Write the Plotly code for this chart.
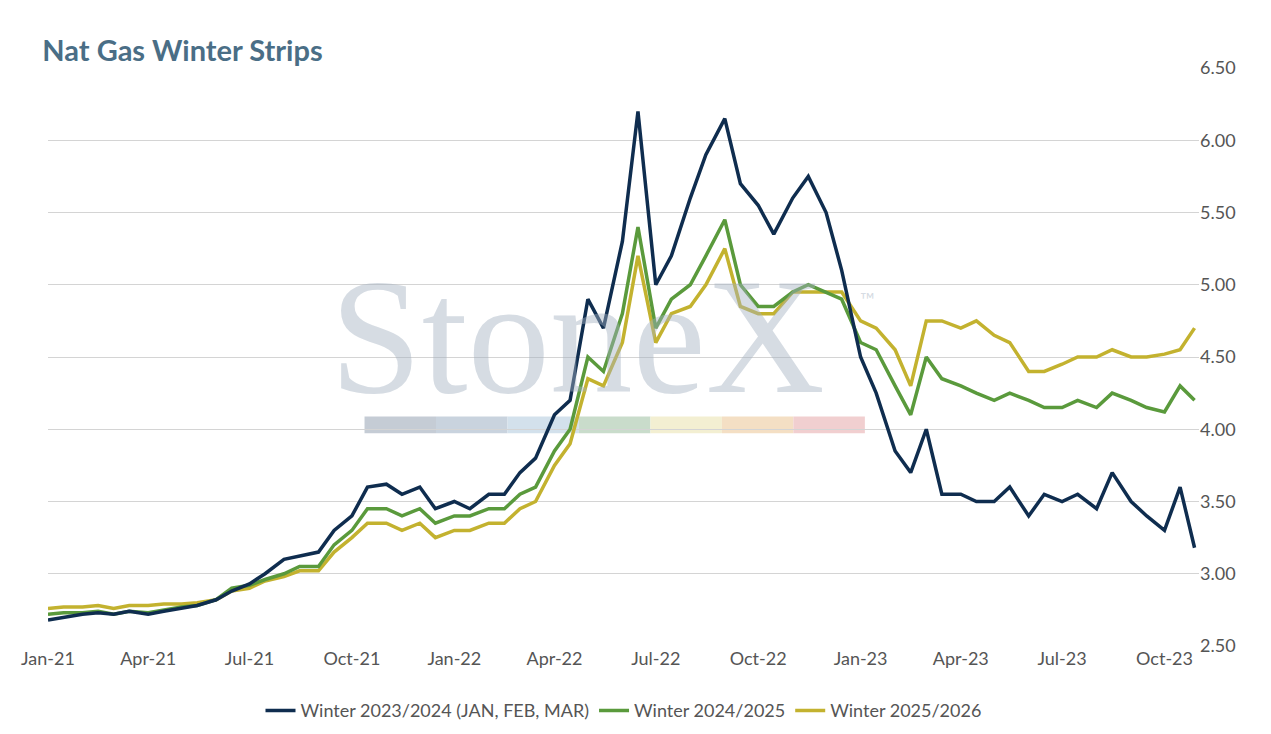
import plotly.graph_objects as go
import pandas as pd

# semi-monthly observations, Jan 2021 .. late Oct 2023
dates = []
for m in pd.date_range("2021-01-01", "2023-10-01", freq="MS"):
    dates.append(m)
    dates.append(m + pd.Timedelta(days=14))
dates.append(pd.Timestamp("2023-10-28"))

winter_2324 = [
    2.68, 2.70, 2.72, 2.73, 2.72, 2.74, 2.72, 2.74, 2.76, 2.78, 2.82, 2.88,
    2.93, 3.00, 3.10, 3.12, 3.15, 3.30, 3.40, 3.60, 3.62, 3.55, 3.60, 3.45,
    3.50, 3.45, 3.55, 3.55, 3.70, 3.80, 4.10, 4.20, 4.90, 4.70, 5.30, 6.20,
    5.00, 5.20, 5.60, 5.90, 6.15, 5.70, 5.55, 5.35, 5.60, 5.75, 5.50, 5.10,
    4.50, 4.25, 3.85, 3.70, 4.00, 3.55, 3.55, 3.50, 3.50, 3.60, 3.40, 3.55,
    3.50, 3.55, 3.45, 3.70, 3.50, 3.40, 3.30, 3.60, 3.18,
]
winter_2425 = [
    2.72, 2.73, 2.73, 2.74, 2.72, 2.74, 2.73, 2.75, 2.77, 2.78, 2.82, 2.90,
    2.92, 2.96, 3.00, 3.05, 3.05, 3.20, 3.30, 3.45, 3.45, 3.40, 3.45, 3.35,
    3.40, 3.40, 3.45, 3.45, 3.55, 3.60, 3.85, 4.00, 4.50, 4.40, 4.80, 5.40,
    4.70, 4.90, 5.00, 5.20, 5.45, 5.00, 4.85, 4.85, 4.95, 5.00, 4.95, 4.90,
    4.60, 4.55, 4.30, 4.10, 4.50, 4.35, 4.30, 4.25, 4.20, 4.25, 4.20, 4.15,
    4.15, 4.20, 4.15, 4.25, 4.20, 4.15, 4.12, 4.30, 4.20,
]
winter_2526 = [
    2.76, 2.77, 2.77, 2.78, 2.76, 2.78, 2.78, 2.79, 2.79, 2.80, 2.82, 2.88,
    2.90, 2.95, 2.98, 3.02, 3.02, 3.15, 3.25, 3.35, 3.35, 3.30, 3.35, 3.25,
    3.30, 3.30, 3.35, 3.35, 3.45, 3.50, 3.75, 3.90, 4.35, 4.30, 4.60, 5.20,
    4.60, 4.80, 4.85, 5.00, 5.25, 4.85, 4.80, 4.80, 4.95, 4.95, 4.95, 4.95,
    4.75, 4.70, 4.55, 4.30, 4.75, 4.75, 4.70, 4.75, 4.65, 4.60, 4.40, 4.40,
    4.45, 4.50, 4.50, 4.55, 4.50, 4.50, 4.52, 4.55, 4.70,
]

series = [
    ("Winter 2023/2024 (JAN, FEB, MAR)", winter_2324, "#0f2d4f"),
    ("Winter 2024/2025", winter_2425, "#5a9a3c"),
    ("Winter 2025/2026", winter_2526, "#c3b22f"),
]

fig = go.Figure()
for name, vals, col in series[::-1]:
    fig.add_trace(go.Scatter(x=dates, y=vals, name=name, mode="lines",
                             line=dict(color=col, width=3.5)))

# watermark
wm = "rgba(165,177,192,0.45)"
fig.add_annotation(text="StoneX", x=0.46, y=0.535, xref="paper", yref="paper",
                   showarrow=False, font=dict(family="Liberation Serif", size=165, color=wm))
fig.add_annotation(text="™", x=0.72, y=0.60, xref="paper", yref="paper",
                   showarrow=False, font=dict(family="Lato", size=20, color=wm))
bar_cols = ["#c5ccd5", "#c9d3de", "#d3e1ec", "#c9dccb", "#f3efd2", "#f4dfc4", "#f1cfd0"]
x0, w = 0.275, 0.0621
for i, c in enumerate(bar_cols):
    fig.add_shape(type="rect", xref="paper", yref="paper",
                  x0=x0 + i * w, x1=x0 + (i + 1) * w, y0=0.368, y1=0.397,
                  fillcolor=c, line_width=0, layer="below")

fig.update_layout(
    width=1271, height=734,
    margin=dict(l=40, r=80, t=60, b=96),
    plot_bgcolor="white", paper_bgcolor="white",
    font=dict(family="Lato", size=18, color="#555"),
    title=dict(text="<b>Nat Gas Winter Strips</b>", x=0.027, y=0.955,
               font=dict(size=29, color="#4a6e86")),
    legend=dict(orientation="h", x=0.5, xanchor="center", y=-0.08, yanchor="top",
                traceorder="reversed", font=dict(size=18, color="#555")),
    showlegend=True,
)
fig.update_xaxes(range=["2021-01-01", "2023-11-01"], tickformat="%b-%y", dtick="M3",
                 tick0="2021-01-01", showgrid=False, ticks="", showline=False)
fig.update_yaxes(range=[2.5, 6.5], dtick=0.5, tickformat=".2f", side="right",
                 gridcolor="#d4d4d4", zeroline=False)

fig.write_html("out.html")
